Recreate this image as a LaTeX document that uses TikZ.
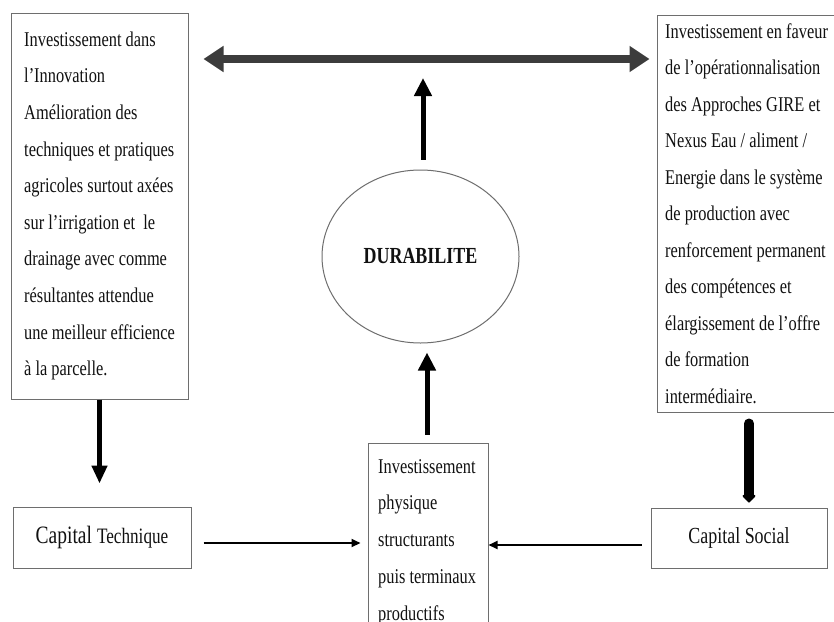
\documentclass[tikz,border=0pt]{standalone}
\usepackage{fontspec}
\setmainfont[FakeStretch=0.78]{Liberation Serif}
\usetikzlibrary{arrows.meta,shapes.geometric}

\definecolor{boxline}{HTML}{6E6E6E}
\definecolor{bararrow}{HTML}{3C3C3C}
\definecolor{ink}{HTML}{111111}

\tikzset{
  panel/.style={draw=boxline, line width=1pt, fill=white, rectangle, inner sep=0pt, text=ink},
  capbox/.style={panel, align=center},
  lines/.style={anchor=north west, inner sep=0pt, text=ink},
  durab/.style={draw=boxline, line width=1pt, ellipse, inner sep=0pt, text=ink},
  twoway/.style={draw=bararrow, line width=8pt,
    {Triangle[width=25pt,length=20pt]}-{Triangle[width=25pt,length=20pt]}},
  upshaft/.style={draw=black, line width=5pt, -{Triangle[width=17pt,length=18pt]}},
  downshaft/.style={draw=black, line width=5pt, -{Triangle[width=15pt,length=18pt]}},
  slim/.style={draw=black, line width=2pt, -{Triangle[width=8pt,length=9pt]}},
  heavy/.style={draw=black, line width=10pt, line cap=round, -{Triangle[width=15pt,length=8pt,round]}}
}

\begin{document}
\begin{tikzpicture}[x=1pt,y=-1pt]
\useasboundingbox (0,0) rectangle (834,621);
\fill[white] (0,0) rectangle (834,621);

% frames
\node[panel, minimum width=177pt, minimum height=386pt] (L) at (99.5,206) {};
\node[panel, minimum width=184pt, minimum height=397pt] (R) at (749,213.5) {};
\node[panel, minimum width=120pt, minimum height=197pt] (B) at (428,541.5) {};
\node[durab, minimum width=197pt, minimum height=173pt,
      font=\fontsize{23}{23}\selectfont\bfseries] (E) at (420.5,256.5) {DURABILITE};

% left column: innovation investment
\node[lines] (Ltxt) at (24,20.4)
{\fontsize{21}{36.6}\selectfont
\begin{tabular}{@{}l@{}}
Investissement dans\\
l’Innovation\\
Amélioration des\\
techniques et pratiques\\
agricoles surtout axées\\
sur l’irrigation et\ \ le\\
drainage avec comme\\
résultantes attendue\\
une meilleur efficience\\
à la parcelle.
\end{tabular}};

% right column: IWRM / Nexus investment
\node[lines] (Rtxt) at (665,12.5)
{\fontsize{21}{36.5}\selectfont
\begin{tabular}{@{}l@{}}
Investissement en faveur\\
de l’opérationnalisation\\
des Approches GIRE et\\
Nexus Eau / aliment /\\
Energie dans le système\\
de production avec\\
renforcement permanent\\
des compétences et\\
élargissement de l’offre\\
de formation\\
intermédiaire.
\end{tabular}};

% bottom centre: physical investment
\node[lines] (Btxt) at (378,447.3)
{\fontsize{21}{36.75}\selectfont
\begin{tabular}{@{}l@{}}
Investissement\\
physique\\
structurants\\
puis terminaux\\
productifs
\end{tabular}};

% capitals
\node[capbox, minimum width=178pt, minimum height=61pt] (CT) at (102,537.5)
{{\fontsize{25}{25}\selectfont Capital}\hspace{5pt}{\fontsize{22}{22}\selectfont Technique}};
\node[capbox, minimum width=176pt, minimum height=60pt,
      font=\fontsize{23}{23}\selectfont] (CS) at (739,538) {Capital Social};

% connectors
\coordinate (topy) at (0,59);
\coordinate (lowy) at (0,543);
\coordinate (lowy2) at (0,545);

\draw[twoway, shorten <=15pt, shorten >=7pt] (L.east |- topy) -- (R.west |- topy);
\draw[upshaft, shorten <=10pt, shorten >=19pt] ([xshift=2.5pt]E.north) -- ([xshift=2.5pt]E.north |- topy);
\draw[upshaft, shorten <=8pt, shorten >=9pt] ([xshift=-1pt]B.north) -- ([xshift=-1pt]B.north |- E.south);
\draw[downshaft, shorten >=23pt] (L.south) -- (L.south |- CT.north);
\draw[slim, shorten <=12pt, shorten >=7pt] (CT.east |- lowy) -- (B.west |- lowy);
\draw[slim, shorten <=9pt] (CS.west |- lowy2) -- (B.east |- lowy2);
\draw[heavy, shorten <=11pt, shorten >=5pt] (R.south) -- (R.south |- CS.north);
\end{tikzpicture}
\end{document}
